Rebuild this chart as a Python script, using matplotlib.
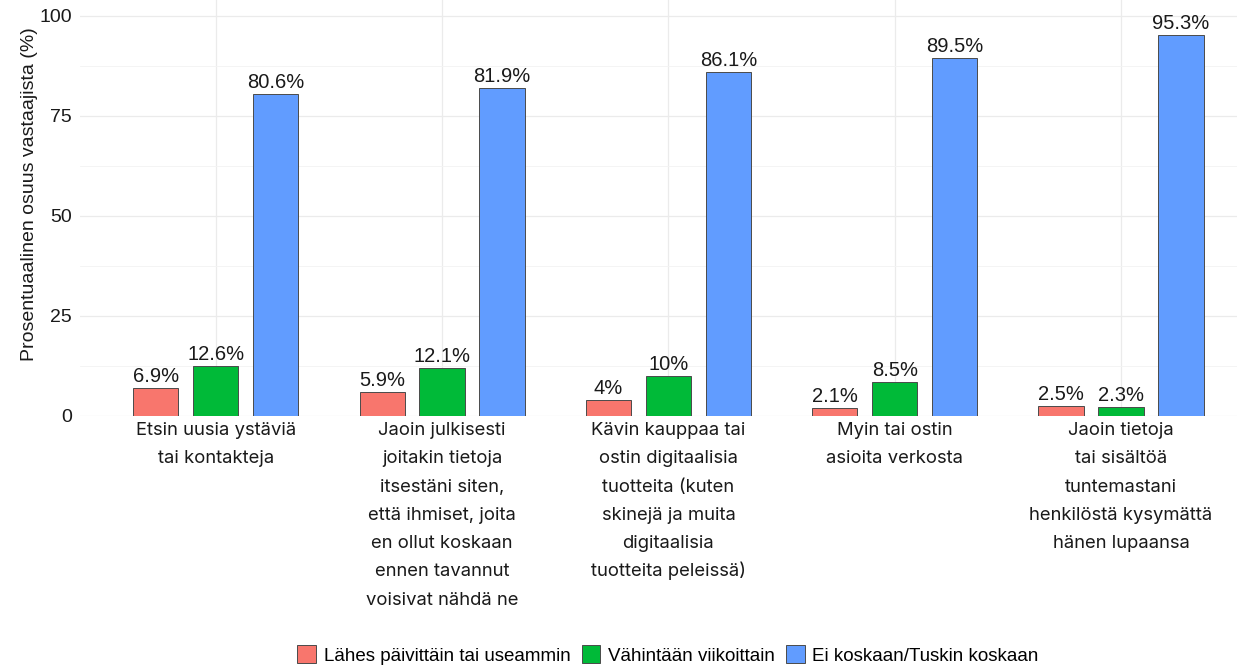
import numpy as np
import matplotlib.pyplot as plt
from matplotlib.patches import Patch

# Data
categories = [
    "Etsin uusia ystäviä\ntai kontakteja",
    "Jaoin julkisesti\njoitakin tietoja\nitsestäni siten,\nettä ihmiset, joita\nen ollut koskaan\nennen tavannut\nvoisivat nähdä ne",
    "Kävin kauppaa tai\nostin digitaalisia\ntuotteita (kuten\nskinejä ja muita\ndigitaalisia\ntuotteita peleissä)",
    "Myin tai ostin\nasioita verkosta",
    "Jaoin tietoja\ntai sisältöä\ntuntemastani\nhenkilöstä kysymättä\nhänen lupaansa",
]
series_names = ["Lähes päivittäin tai useammin", "Vähintään viikoittain", "Ei koskaan/Tuskin koskaan"]
daily = [6.9, 5.9, 4.0, 2.1, 2.5]
weekly = [12.6, 12.1, 10.0, 8.5, 2.3]
never = [80.6, 81.9, 86.1, 89.5, 95.3]
value_labels = [
    ["6.9%", "5.9%", "4%", "2.1%", "2.5%"],
    ["12.6%", "12.1%", "10%", "8.5%", "2.3%"],
    ["80.6%", "81.9%", "86.1%", "89.5%", "95.3%"],
]
colors = ["#F8766D", "#00BA38", "#619CFF"]

W, H = 1237, 665
fig = plt.figure(figsize=(W/100, H/100), dpi=100)
ax = fig.add_axes([80/W, 1 - 416/H, (W - 80)/W, 416/H])

x = np.arange(1, len(categories) + 1)
offsets = [-0.265, 0, 0.265]
width = 0.2
for vals, off, col, labs in zip([daily, weekly, never], offsets, colors, value_labels):
    bars = ax.bar(x + off, vals, width=width, color=col, edgecolor="#4a4a4a",
                  linewidth=0.7, zorder=3)
    for b, lab in zip(bars, labs):
        ax.text(b.get_x() + b.get_width()/2, b.get_height() + 0.5, lab,
                ha="center", va="bottom", fontsize=14.5, color="#1a1a1a",
                family="Liberation Sans", zorder=4)

ax.set_xlim(0.4, 1 + (W - 215)/226.5)
ax.set_ylim(0, 104)
ax.set_yticks([0, 25, 50, 75, 100])
ax.set_yticks([12.5, 37.5, 62.5, 87.5], minor=True)
ax.set_xticks(x)
ax.set_xticklabels([])
ax.tick_params(axis="x", length=0)
ax.tick_params(axis="y", which="both", length=0, pad=6, labelsize=14, labelcolor="#1a1a1a")
for t in ax.get_yticklabels():
    t.set_family("Liberation Sans")
ax.grid(True, which="major", color="#EBEBEB", linewidth=0.9, zorder=0)
ax.grid(True, which="minor", axis="y", color="#F3F3F3", linewidth=0.6, zorder=0)
for s in ax.spines.values():
    s.set_visible(False)

# category labels, one line at a time so spacing stays even
for xi, cat in zip(x, categories):
    for i, line in enumerate(cat.split("\n")):
        ax.annotate(line, xy=(xi, 0), xycoords=("data", "axes fraction"),
                    xytext=(0, -(19 + 28.3*i)*0.72), textcoords="offset points",
                    ha="center", va="baseline", fontsize=13.3, family="Inter",
                    color="#1a1a1a")

fig.text(30/W, 1 - 194/H, "Prosentuaalinen osuus vastaajista (%)", rotation=90,
         ha="center", va="center", fontsize=14, family="Liberation Sans", color="#1a1a1a")

handles = [Patch(facecolor=c, edgecolor="#4a4a4a", linewidth=0.7) for c in colors]
fig.legend(handles, series_names, loc="center", bbox_to_anchor=(668/W, 1 - 655/H),
           ncol=3, frameon=False,
           prop={"family": "Liberation Sans", "size": 13.5},
           handlelength=1.0, handleheight=1.1, handletextpad=0.4, columnspacing=0.6)

fig.savefig("out.png", dpi=100)
